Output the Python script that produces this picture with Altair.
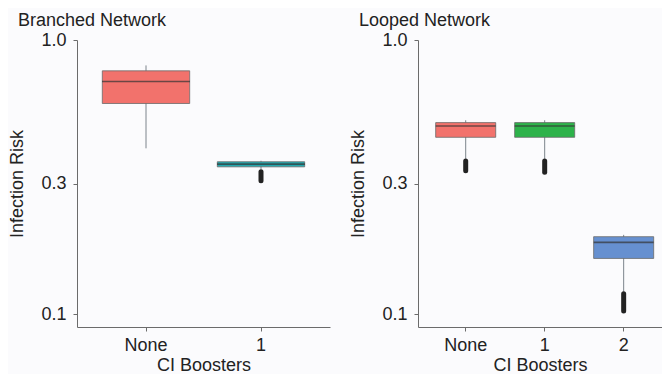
import altair as alt
import pandas as pd

# Branched network
b_cats = ["None", "1"]
b_colors = ["#F2726C", "#22A8AE"]
b_wlo = [0.403, 0.338]
b_q1 = [0.587, 0.345]
b_med = [0.706, 0.353]
b_q3 = [0.772, 0.360]
b_whi = [0.808, 0.363]
b_out_cats = ["1"]
b_out_lo = [0.307]
b_out_hi = [0.331]

# Looped network
l_cats = ["None", "1", "2"]
l_colors = ["#F2726C", "#2DB24A", "#6690D0"]
l_wlo = [0.369, 0.369, 0.121]
l_q1 = [0.442, 0.442, 0.160]
l_med = [0.486, 0.486, 0.183]
l_q3 = [0.500, 0.500, 0.192]
l_whi = [0.510, 0.510, 0.195]
l_out_cats = ["None", "1", "2"]
l_out_lo = [0.334, 0.330, 0.103]
l_out_hi = [0.362, 0.362, 0.119]

y_ticks = [0.1, 0.3, 1.0]
FONT = "Liberation Sans"


def panel(title, cats, colors, wlo, q1, med, q3, whi, ocats, olo, ohi,
          boxw, width, pouter, align):
    df = pd.DataFrame(dict(cat=cats, wlo=wlo, q1=q1, med=med, q3=q3, whi=whi))
    odf = pd.DataFrame(dict(cat=ocats, lo=olo, hi=ohi))
    xs = alt.Scale(domain=cats, paddingInner=0.24, paddingOuter=pouter, align=align)
    x = alt.X("cat:N", scale=xs, sort=cats,
              axis=alt.Axis(title="CI Boosters", labelAngle=0, labelFontSize=18,
                            titleFontSize=18, titleFontWeight="normal",
                            tickSize=4, labelPadding=5, titlePadding=2,
                            domainColor="#6b6b6b", tickColor="#6b6b6b",
                            labelColor="#222", titleColor="#222", grid=False))
    ys = alt.Scale(type="log", domain=[0.09, 1.0], nice=False)
    yaxis = alt.Axis(title="Infection Risk", values=y_ticks, format=".1f",
                     labelFontSize=18, titleFontSize=18, titleFontWeight="normal",
                     tickSize=4, labelPadding=7, titlePadding=14,
                     domainColor="#6b6b6b", tickColor="#6b6b6b",
                     labelColor="#222", titleColor="#222", grid=False)
    base = alt.Chart(df).encode(x=x)
    whisk = base.mark_rule(color="#7c848c", strokeWidth=1).encode(
        y=alt.Y("wlo:Q", scale=ys, axis=yaxis), y2="whi:Q")
    box = base.mark_bar(stroke="#6a6a6a", strokeWidth=0.8).encode(
        y=alt.Y("q1:Q", scale=ys), y2="q3:Q",
        color=alt.Color("cat:N", scale=alt.Scale(domain=cats, range=colors), legend=None))
    medt = base.mark_tick(color="#333333", thickness=1.6, size=boxw).encode(
        y=alt.Y("med:Q", scale=ys))
    outl = alt.Chart(odf).mark_rule(color="#222222", strokeWidth=5, strokeCap="round").encode(
        x=alt.X("cat:N", scale=xs, sort=cats), y=alt.Y("lo:Q", scale=ys), y2="hi:Q")
    return alt.layer(whisk, box, medt, outl).properties(
        width=width, height=287,
        title=alt.TitleParams(title, anchor="start", fontSize=18, fontWeight="normal",
                              offset=1, dx=9, color="#222", font=FONT))


left = panel("Branched Network", b_cats, b_colors, b_wlo, b_q1, b_med, b_q3, b_whi,
             b_out_cats, b_out_lo, b_out_hi, 88, 253, 0.22, 0.5)
right = panel("Looped Network", l_cats, l_colors, l_wlo, l_q1, l_med, l_q3, l_whi,
              l_out_cats, l_out_lo, l_out_hi, 60, 244, 0.1646, 0.68)

chart = alt.hconcat(
    left, right, spacing=19,
    padding={"top": 4, "bottom": 0, "left": 0, "right": 0}
).resolve_scale(
    color="independent", x="independent"
).configure(
    background="#fbfbfd", font=FONT
).configure_view(stroke=None)

chart.save("out.html", embed_options={"renderer": "svg", "actions": False})
